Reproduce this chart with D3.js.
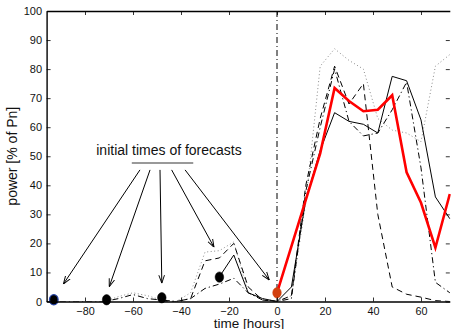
<!DOCTYPE html>
<html><head><meta charset="utf-8">
<script src="https://cdn.jsdelivr.net/npm/d3@7"></script>
<style>body{margin:0;background:#fff}svg{display:block}text{font-family:"Liberation Sans",Arial,Helvetica,sans-serif}</style>
</head><body>
<script>
// ---- data ----
const times = [-96,-90,-84,-78,-72,-66,-60,-54,-48,-42,-36,-30,-24,-18,-12,-6,0,6,12,18,24,30,36,42,48,54,60,66,72];
const dashDotSeries = [0,0,0,0,0,1,2.4,1,0.5,0,1,4.5,6,8,3,0.5,0,1,38,60,80,62,57,58,66,75.5,46,6.6,3];
const dottedSeries  = [null,null,null,null,0,1.7,3,2,0.5,0,3,17,17.5,20.5,3,1,0,2,34,81,87,83,80,63,59,58,55,81,85];
const dashedSeries  = [null,null,null,null,null,null,null,null,0,0,1,14,15,20,5,0.5,0,2,40,63,81,68,75,30,5,2.5,1.5,0.3,0];
const solidSeries   = [null,null,null,null,null,null,null,null,null,null,null,null,8.5,16,3,1,0,5,35,52,65,62,61,58,77.5,76,62.5,36,28.5];
const observed      = [null,null,null,null,null,null,null,null,null,null,null,null,null,null,null,null,3,19,35,51,73.5,69,65.5,66,71,44.5,34,18.5,37];
const initTimes  = [-93,-71,-48,-24,0];
const initValues = [0.6,0.6,1.3,8.4,3];
const yTicks = [0,10,20,30,40,50,60,70,80,90,100];
const xTicks = [-80,-60,-40,-20,0,20,40,60];
const annText = "initial times of forecasts";
const annTextPos = [-45,50.5];
const annBar = [[-60.5,47.7],[-34.9,47.7]];
const arrowStarts = [[-57.1,45.3],[-52.9,45.3],[-48.75,45.3],[-43.9,45.3],[-38.3,45.3]];
const arrowEnds   = [[-89,6],[-69.9,5.1],[-48,6.3],[-26.25,18.7],[-3.2,7.4]];

// ---- chart ----
const W=452,H=329;
const svg=d3.select("body").append("svg").attr("width",W).attr("height",H);
const x=d3.scaleLinear().domain([-96,72]).range([46.6,449.8]);
const y=d3.scaleLinear().domain([0,100]).range([301.5,11]);

svg.append("defs").append("marker").attr("id","ah").attr("viewBox","0 -5 10 10")
  .attr("refX",10).attr("refY",0).attr("markerWidth",8).attr("markerHeight",8)
  .attr("markerUnits","userSpaceOnUse").attr("orient","auto")
  .append("path").attr("d","M0,-3.5L10,0L0,3.5").attr("fill","none").attr("stroke","#000").attr("stroke-width",1.2);

svg.append("clipPath").attr("id","pc").append("rect")
  .attr("x",x(-96)).attr("y",y(100)).attr("width",x(72)-x(-96)+1).attr("height",y(0)-y(100));

const g=svg.append("g").attr("clip-path","url(#pc)");

// vertical reference line at t=0
g.append("line").attr("x1",x(0)).attr("x2",x(0)).attr("y1",y(100)).attr("y2",y(0))
  .attr("stroke","#000").attr("stroke-width",1).attr("stroke-dasharray","6,3,1,3");

const line=d3.line().defined(d=>d[1]!=null).x(d=>x(d[0])).y(d=>y(d[1]));
function draw(vals,stroke,w,dash){
  g.append("path").datum(times.map((t,i)=>[t,vals[i]])).attr("d",line)
   .attr("fill","none").attr("stroke",stroke).attr("stroke-width",w)
   .attr("stroke-dasharray",dash||null).attr("stroke-linejoin","miter");
}
draw(dottedSeries,"#8a8a8a",1,"1,2.5");
draw(dashDotSeries,"#000",1,"6,3,1.2,3");
draw(dashedSeries,"#000",1,"6,4");
draw(solidSeries,"#000",1,null);
draw(observed,"#ff0000",2.6,null);

// initial-time markers
svg.selectAll("ellipse.init").data(initTimes).join("ellipse").attr("class","init")
  .attr("cx",d=>x(d)).attr("cy",(d,i)=>y(initValues[i])).attr("rx",4.3).attr("ry",5.2)
  .attr("fill",(d,i)=>i===4?"#d2400f":"#000")
  .attr("stroke",(d,i)=>i===0?"#2846a8":(i===4?"#d2400f":"#000")).attr("stroke-width",(d,i)=>i===0?1.3:0.5);

// axes
const ax=svg.append("g").attr("class","axes");
const axL=ax.append("g").attr("transform",`translate(${x(-96)},0)`)
  .call(d3.axisLeft(y).tickValues(yTicks).tickSizeInner(-4).tickSizeOuter(0).tickPadding(4.5));
const axB=ax.append("g").attr("transform",`translate(0,${y(0)})`)
  .call(d3.axisBottom(x).tickValues(xTicks).tickSizeInner(-4).tickSizeOuter(0).tickPadding(5.5));
const axT=ax.append("g").attr("transform",`translate(0,${y(100)})`)
  .call(d3.axisTop(x).tickValues(xTicks).tickSizeInner(-4).tickSizeOuter(0).tickFormat(""));
const axR=ax.append("g").attr("transform",`translate(${x(72)},0)`)
  .call(d3.axisRight(y).tickValues(yTicks).tickSizeInner(-4).tickSizeOuter(0).tickFormat(""));
axR.select(".domain").remove();
ax.selectAll(".domain").attr("stroke","#000").attr("stroke-width",1.4);
ax.selectAll(".tick line").attr("stroke","#000").attr("stroke-width",0.8);
ax.selectAll(".tick text").attr("font-size",11).attr("fill","#111")
  .style("font-family",'"Liberation Sans",Arial,sans-serif');
axB.selectAll(".tick text").attr("font-size",10.8);

// labels
svg.append("text").attr("transform",`translate(17,${(y(0)+y(100))/2})rotate(-90)`)
  .attr("text-anchor","middle").attr("font-size",14).attr("fill","#111").text("power [% of Pn]");
svg.append("text").attr("x",249).attr("y",327.5).attr("text-anchor","middle")
  .attr("font-size",13.5).attr("fill","#111").text("time [hours]");

// annotation
svg.append("text").attr("x",x(annTextPos[0])).attr("y",y(annTextPos[1])).attr("text-anchor","middle")
  .attr("font-size",14).attr("fill","#111").text(annText);
svg.append("line").attr("x1",x(annBar[0][0])).attr("y1",y(annBar[0][1]))
  .attr("x2",x(annBar[1][0])).attr("y2",y(annBar[1][1])).attr("stroke","#777").attr("stroke-width",1.5);
svg.selectAll("line.arrow").data(arrowStarts).join("line").attr("class","arrow")
  .attr("x1",d=>x(d[0])).attr("y1",d=>y(d[1]))
  .attr("x2",(d,i)=>x(arrowEnds[i][0])).attr("y2",(d,i)=>y(arrowEnds[i][1]))
  .attr("stroke","#000").attr("stroke-width",1).attr("marker-end","url(#ah)");
</script>
</body></html>
